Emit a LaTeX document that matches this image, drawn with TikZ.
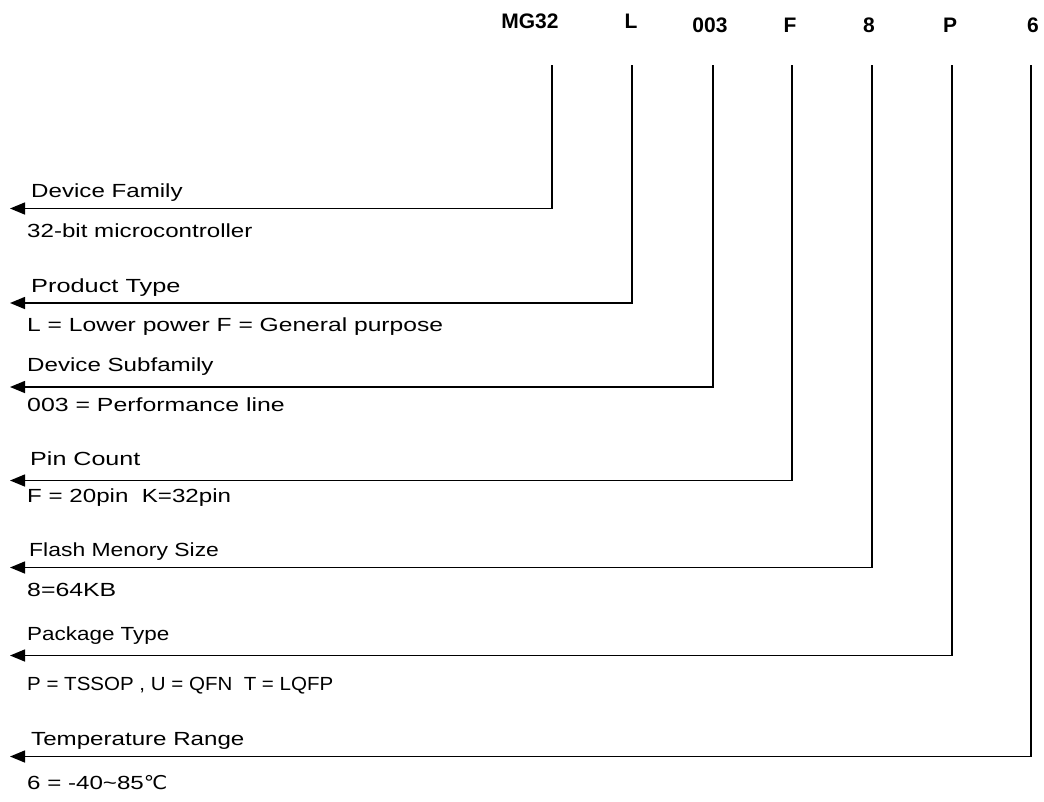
\documentclass[tikz,border=0pt]{standalone}
\usepackage{fontspec}
\setmainfont[FakeStretch=1.27]{Liberation Sans}
\newfontfamily\topfont{Liberation Sans}
\newfontfamily\djv[FakeStretch=1.1]{DejaVu Sans}
\usetikzlibrary{arrows.meta}
\newcommand{\hsq}[2]{\scalebox{#1}[1]{#2}}
\begin{document}
\begin{tikzpicture}[x=1pt,y=-1pt,
  toplbl/.style={font=\topfont\fontsize{21}{24}\bfseries\selectfont, anchor=base, inner sep=0pt},
  lbl/.style={font=\fontsize{19}{23}\selectfont, anchor=base west, inner sep=0pt},
  conn/.style={line width=1.5pt, -{Triangle[length=15pt,width=12pt]}}]
\useasboundingbox (0,0) rectangle (1044,801);
% top code letters
\node[toplbl] (t1) at (530,28.5) {MG32};
\node[toplbl] (t2) at (631,28.5) {L};
\node[toplbl] (t3) at (710,32) {003};
\node[toplbl] (t4) at (790,32) {F};
\node[toplbl] (t5) at (869,32) {8};
\node[toplbl] (t6) at (950,32) {P};
\node[toplbl] (t7) at (1033,32) {6};
% line starts
\coordinate (v1) at (552,65);
\coordinate (v2) at (632,65);
\coordinate (v3) at (713,65);
\coordinate (v4) at (792,65);
\coordinate (v5) at (872,65);
\coordinate (v6) at (952,65);
\coordinate (v7) at (1031,65);
% arrow ends
\coordinate (a1) at (10,208.5);
\coordinate (a2) at (10,303);
\coordinate (a3) at (10,387);
\coordinate (a4) at (10,480.5);
\coordinate (a5) at (10,567.5);
\coordinate (a6) at (10,655.5);
\coordinate (a7) at (10,756.5);
\foreach \i in {1,...,7} {\draw[conn] (v\i) |- (a\i);}
% labels
\node[lbl] (h1) at (31,197.5) {Device Family};
\node[lbl] (d1) at (27,237) {32-bit microcontroller};
\node[lbl] (h2) at (31,292.5) {\hsq{1.05}{Product Type}};
\node[lbl] (d2) at (27,331) {\hsq{1.02}{L = Lower power F = General purpose}};
\node[lbl] (h3) at (27,371) {Device Subfamily};
\node[lbl] (d3) at (27,411) {\hsq{1.03}{003 = Performance line}};
\node[lbl] (h4) at (30,465.5) {\hsq{1.04}{Pin Count}};
\node[lbl] (d4) at (27,502) {F = 20pin\ \ K=32pin};
\node[lbl] (h5) at (29,556) {\hsq{0.95}{Flash Menory Size}};
\node[lbl] (d5) at (27,596) {\hsq{1.03}{8=64KB}};
\node[lbl] (h6) at (27,640) {\hsq{0.93}{Package Type}};
\node[lbl] (d6) at (27,690) {\hsq{0.85}{P = TSSOP , U = QFN\ \ T = LQFP}};
\node[lbl] (h7) at (31,745.5) {Temperature Range};
\node[lbl] (d7) at (27,789) {6 = -40\textasciitilde 85{\djv ℃}};
\end{tikzpicture}
\end{document}
